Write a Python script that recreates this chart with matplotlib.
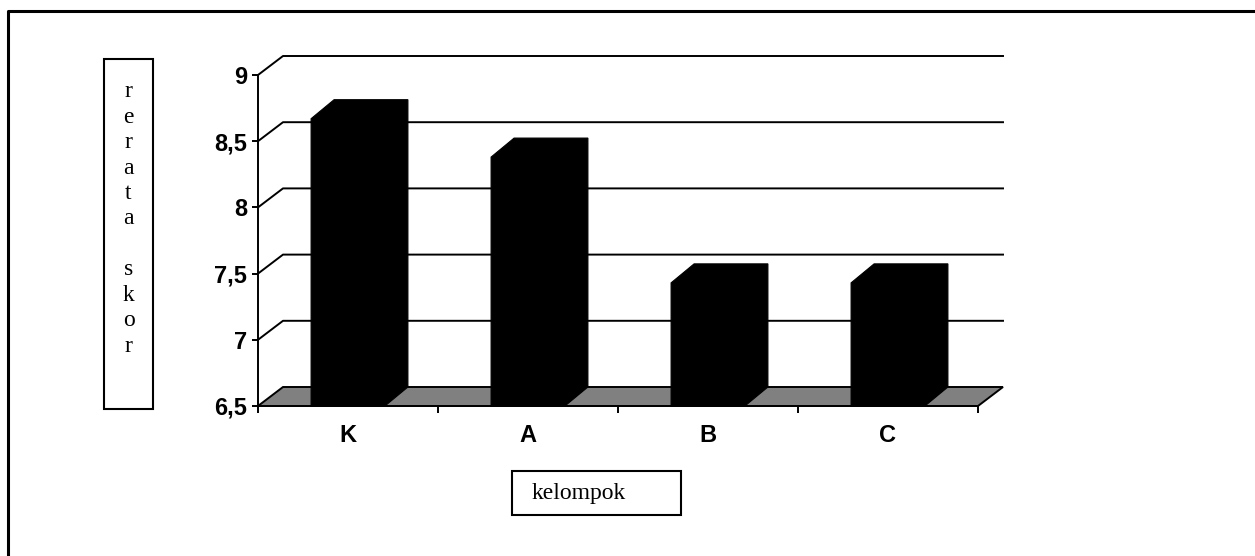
import matplotlib.pyplot as plt
from matplotlib.patches import Polygon, Rectangle
from matplotlib.lines import Line2D

# data
groups = ['K', 'A', 'B', 'C']
means = [8.67, 8.38, 7.43, 7.43]
y_ticks = [6.5, 7, 7.5, 8, 8.5, 9]
y_ticklabels = ['6,5', '7', '7,5', '8', '8,5', '9']
y_label = 'rerata skor'
x_label = 'kelompok'

W, H = 1255, 556
fig = plt.figure(figsize=(W / 100, H / 100), dpi=100)

# axes covers the front plane of the pseudo-3D chart
ax = fig.add_axes([258 / W, (H - 406) / H, 720 / W, 331 / H])
ymin, ymax = y_ticks[0], y_ticks[-1]
ax.set_xlim(0, len(groups))
ax.set_ylim(ymin, ymax)
ax.patch.set_visible(False)

# depth of the 3D effect in data units
DX = 25 / 180
DY = 19 / 132.4
LW = 1.4

# back wall gridlines with the diagonal on the side wall
for y in y_ticks[1:]:
    ax.plot([0, DX, len(groups) + DX], [y, y + DY, y + DY],
            color='black', lw=LW, clip_on=False, zorder=1)

# grey floor
floor = Polygon([(0, ymin), (len(groups), ymin),
                 (len(groups) + DX, ymin + DY), (DX, ymin + DY)],
                closed=True, fc='#808080', ec='black', lw=LW,
                clip_on=False, zorder=2)
ax.add_patch(floor)

# black 3D columns
bar_off, bar_w = 0.295, 0.41
bdx = 23 / 180
for i, v in enumerate(means):
    x0 = i + bar_off
    x1 = x0 + bar_w
    pts = [(x0, ymin), (x1, ymin), (x1 + bdx, ymin + DY),
           (x1 + bdx, v + DY), (x0 + bdx, v + DY), (x0, v)]
    ax.add_patch(Polygon(pts, closed=True, fc='black', ec='black',
                         lw=0.8, clip_on=False, zorder=3))

for side in ['top', 'right']:
    ax.spines[side].set_visible(False)
for side in ['left', 'bottom']:
    ax.spines[side].set_linewidth(LW)
    ax.spines[side].set_zorder(4)

tick_font = dict(family='Liberation Sans', fontsize=17, fontweight='bold')
ax.set_yticks(y_ticks)
ax.set_yticklabels(y_ticklabels, **tick_font)
ax.tick_params(axis='y', direction='out', length=4, width=LW, pad=4)

ax.set_xticks(range(len(groups) + 1))
ax.set_xticklabels([''] * (len(groups) + 1))
ax.set_xticks([i + 0.5 for i in range(len(groups))], minor=True)
ax.set_xticklabels(groups, minor=True, **tick_font)
ax.tick_params(axis='x', which='major', direction='out', length=5, width=LW)
ax.tick_params(axis='x', which='minor', length=0, pad=13)

# axis title boxes
fig.add_artist(Rectangle((104 / W, (H - 409) / H), 49 / W, 350 / H,
                         transform=fig.transFigure, fill=False,
                         ec='black', lw=1.5))
fig.text(128.5 / W, (H - 219) / H, '\n'.join(y_label), ha='center',
         va='center', family='Liberation Serif', fontsize=17,
         linespacing=1.28)

fig.add_artist(Rectangle((512 / W, (H - 515) / H), 169 / W, 44 / H,
                         transform=fig.transFigure, fill=False,
                         ec='black', lw=1.5))
fig.text(532 / W, (H - 494) / H, x_label, ha='left', va='center',
         family='Liberation Serif', fontsize=17)

# outer frame (cut off at the right and bottom)
fig.add_artist(Line2D([8 / W, 8 / W, 1], [0, (H - 11) / H, (H - 11) / H],
                      transform=fig.transFigure, color='black', lw=2.2))

fig.savefig('out.png', dpi=100)
